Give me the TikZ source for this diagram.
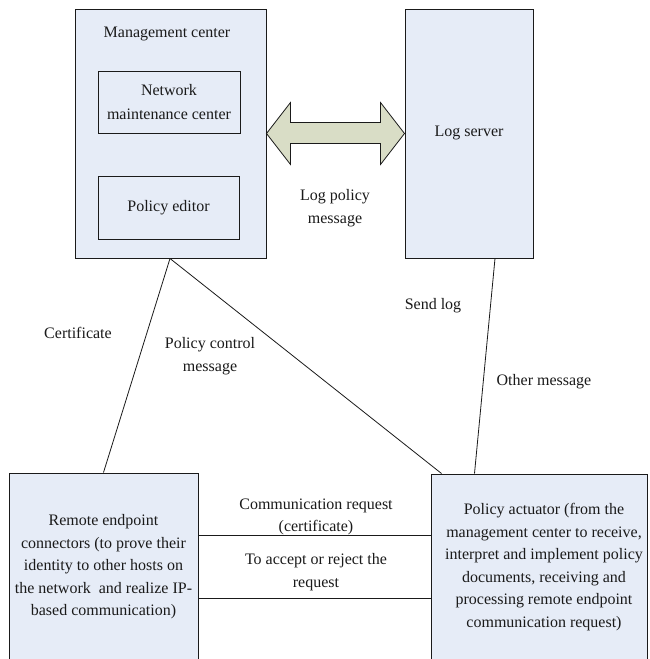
\documentclass[tikz,border=0pt]{standalone}
\usepackage{fontspec}
\setmainfont{Liberation Serif}
\usetikzlibrary{calc}
\definecolor{boxfill}{HTML}{E6ECF7}
\definecolor{arrowfill}{HTML}{D9DDC6}
\definecolor{inkc}{HTML}{1A1A1A}
\begin{document}
\begin{tikzpicture}[x=1pt,y=-1pt,
  box/.style={draw=inkc,line width=1pt,fill=boxfill,inner sep=0pt},
  txt/.style={text=inkc,align=center,inner sep=0pt,font=\fontsize{16}{22.5}\selectfont},
  conn/.style={draw=inkc,line width=0.8pt}]
\clip (0,0) rectangle (649,659);
\fill[white] (0,0) rectangle (649,659);
% boxes
\node[box,minimum width=191pt,minimum height=249pt] (mgmt) at (170.5,133.5) {};
\node[txt] (mgmtlabel) at (167,34) {Management center};
\node[box,minimum width=142pt,minimum height=62pt] (nmc) at (169,102) {};
\node[txt,font=\fontsize{16}{24}\selectfont] (nmctext) at (169,102) {Network\\maintenance center};
\node[box,minimum width=141pt,minimum height=63pt] (pe) at (168.5,207.5) {};
\node[txt] (petext) at (168.5,207.5) {Policy editor};
\node[box,minimum width=128pt,minimum height=249pt] (log) at (469,133.5) {};
\node[txt] (logtext) at (469,133) {Log server};
\node[box,minimum width=189pt,minimum height=227pt] (remote) at (103.5,586.5) {};
\node[txt] (remotetext) at (103.5,567) {Remote endpoint\\connectors (to prove their\\identity to other hosts on\\the network\ \ and realize IP-\\based communication)};
\node[box,minimum width=216.5pt,minimum height=226pt] (act) at (539.25,587) {};
\node[txt] (acttext) at (544,567) {Policy actuator (from the\\management center to receive,\\interpret and implement policy\\documents, receiving and\\processing remote endpoint\\communication request)};
% double arrow
\coordinate (al) at (mgmt.east);
\coordinate (ar) at (log.west);
\filldraw[draw=inkc,line width=0.8pt,fill=arrowfill]
  (al) -- ($(al)+(24,-31)$) -- ($(al)+(24,-11)$) -- ($(ar)+(-24,-11)$) -- ($(ar)+(-24,-31)$)
  -- (ar) -- ($(ar)+(-24,31)$) -- ($(ar)+(-24,10)$) -- ($(al)+(24,10)$) -- ($(al)+(24,31)$) -- cycle;
% connectors
\coordinate (mb) at ($(mgmt.south)+(-0.5,0)$);
\draw[conn] (mb) -- (remote.north);
\draw[conn] (mb) -- ($(act.north west)+(11,0)$);
\draw[conn] ($(log.south)+(26,0)$) -- ($(act.north west)+(44,0)$);
\draw[conn] ($(remote.north east)+(0,63)$) -- ($(act.north west)+(0,62)$);
\draw[conn] ($(remote.north east)+(0,126)$) -- ($(act.north west)+(0,125)$);
% labels
\node[txt] (l1) at (335,208) {Log policy\\message};
\node[txt] (l2) at (78,333) {Certificate};
\node[txt] (l3) at (210,356) {Policy control\\message};
\node[txt] (l4) at (433,306) {Send log};
\node[txt] (l5) at (544,382) {Other message};
\node[txt] (l6) at (316,517) {Communication request\\(certificate)};
\node[txt] (l7) at (316,572) {To accept or reject the\\request};
\end{tikzpicture}
\end{document}
